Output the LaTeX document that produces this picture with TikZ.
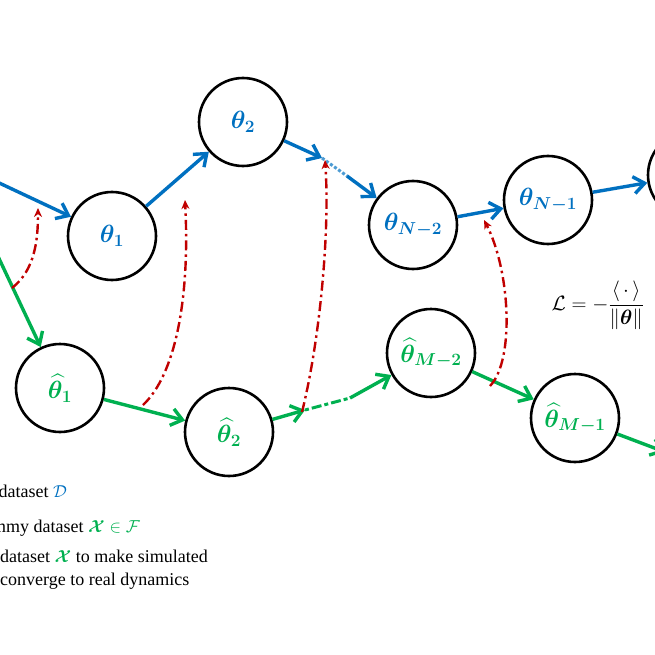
\documentclass[tikz,border=0pt]{standalone}
\usepackage{amsmath,amssymb,bm}
\usepackage{fontspec}
\setmainfont{Liberation Serif}
\usetikzlibrary{arrows.meta}
\definecolor{bl}{RGB}{0,112,192}
\definecolor{gr}{RGB}{0,176,80}
\definecolor{rd}{RGB}{192,0,0}
\tikzset{
 st/.style={circle,draw=black,line width=2.6pt,minimum size=88pt,inner sep=0pt,font=\fontsize{24}{28}\selectfont},
 ba/.style={bl,line width=3.4pt,-{Straight Barb[length=11pt,width=17pt]}},
 ga/.style={gr,line width=3.4pt,-{Straight Barb[length=11pt,width=17pt]}},
 bdot/.style={bl!70,line width=3pt,dotted},
 gdot/.style={gr,line width=3pt,dash pattern=on 4pt off 3pt on 10pt off 3pt},
 ra/.style={rd,line width=2.4pt,dash pattern=on 10pt off 4pt on 2.5pt off 4pt,-{Stealth[length=9pt,width=8pt]}},
 lg/.style={anchor=base west,font=\fontsize{18}{21}\selectfont,inner sep=0pt}
}
\begin{document}
\begin{tikzpicture}[x=1pt,y=-1pt]
\useasboundingbox (0,0) rectangle (655,655);
\clip (0,0) rectangle (655,655);
\node[st,text=bl] (t1) at (112,236) {$\bm{\theta_1}$};
\node[st,text=bl] (t2) at (243,122) {$\bm{\theta_2}$};
\node[st,text=bl] (tn2) at (413,225) {$\bm{\theta_{N-2}}$};
\node[st,text=bl] (tn1) at (548,200) {$\bm{\theta_{N-1}}$};
\node[st] (tn) at (692,175) {};
\node[st,text=gr] (h1) at (60,388) {$\bm{\widehat\theta_1}$};
\node[st,text=gr] (h2) at (229,432) {$\bm{\widehat\theta_2}$};
\node[st,text=gr] (hm2) at (431,353) {$\bm{\widehat\theta_{M-2}}$};
\node[st,text=gr] (hm1) at (575,418) {$\bm{\widehat\theta_{M-1}}$};
\coordinate (bs) at (-5,181);
\coordinate (gs) at (-5,250);
\coordinate (bm1) at (322,158);
\coordinate (bm2) at (347,176);
\coordinate (gm1) at (305,410);
\coordinate (gm2) at (350,398);
\coordinate (ge) at (665,452);
\coordinate (r1s) at (12,288);
\coordinate (r1e) at (38,208);
\coordinate (r2s) at (143,405);
\coordinate (r2e) at (185,200);
\coordinate (r3s) at (302,412);
\coordinate (r3e) at (325,160);
\coordinate (r4s) at (490,386);
\coordinate (r4e) at (484,220);
\draw[ba] (bs) -- (t1);
\draw[ba] (t1) -- (t2);
\draw[ba] (t2) -- (bm1);
\draw[bdot] (bm1) -- (bm2);
\draw[ba] (bm2) -- (tn2);
\draw[ba] (tn2) -- (tn1);
\draw[ba] (tn1) -- (tn);
\draw[ga] (gs) -- (h1);
\draw[ga] (h1) -- (h2);
\draw[ga] (h2) -- (gm1);
\draw[gdot] (gm1) -- (gm2);
\draw[ga] (gm2) -- (hm2);
\draw[ga] (hm2) -- (hm1);
\draw[ga] (hm1) -- (ge);
\draw[ra] (r1s) .. controls (35,270) and (38,240) .. (r1e);
\draw[ra] (r2s) .. controls (175,375) and (190,300) .. (r2e);
\draw[ra] (r3s) .. controls (320,340) and (330,230) .. (r3e);
\draw[ra] (r4s) .. controls (515,360) and (510,270) .. (r4e);
\node[anchor=west,font=\fontsize{20}{24}\selectfont] (loss) at (548,305) {$\mathcal{L}=-\dfrac{\langle\,\cdot\,\rangle}{\|\bm{\theta}\|}$};
\node[lg] (l1) at (-33,497) {real dataset \textcolor{bl}{$\mathcal{D}$}};
\node[lg] (l2) at (-30,532) {Dummy dataset \textcolor{gr}{$\bm{\mathcal{X}}\in\mathcal{F}$}};
\node[lg] (l3) at (0,562) {dataset \textcolor{gr}{$\bm{\mathcal{X}}$} to make simulated};
\node[lg] (l4) at (0,585) {converge to real dynamics};
\end{tikzpicture}
\end{document}
